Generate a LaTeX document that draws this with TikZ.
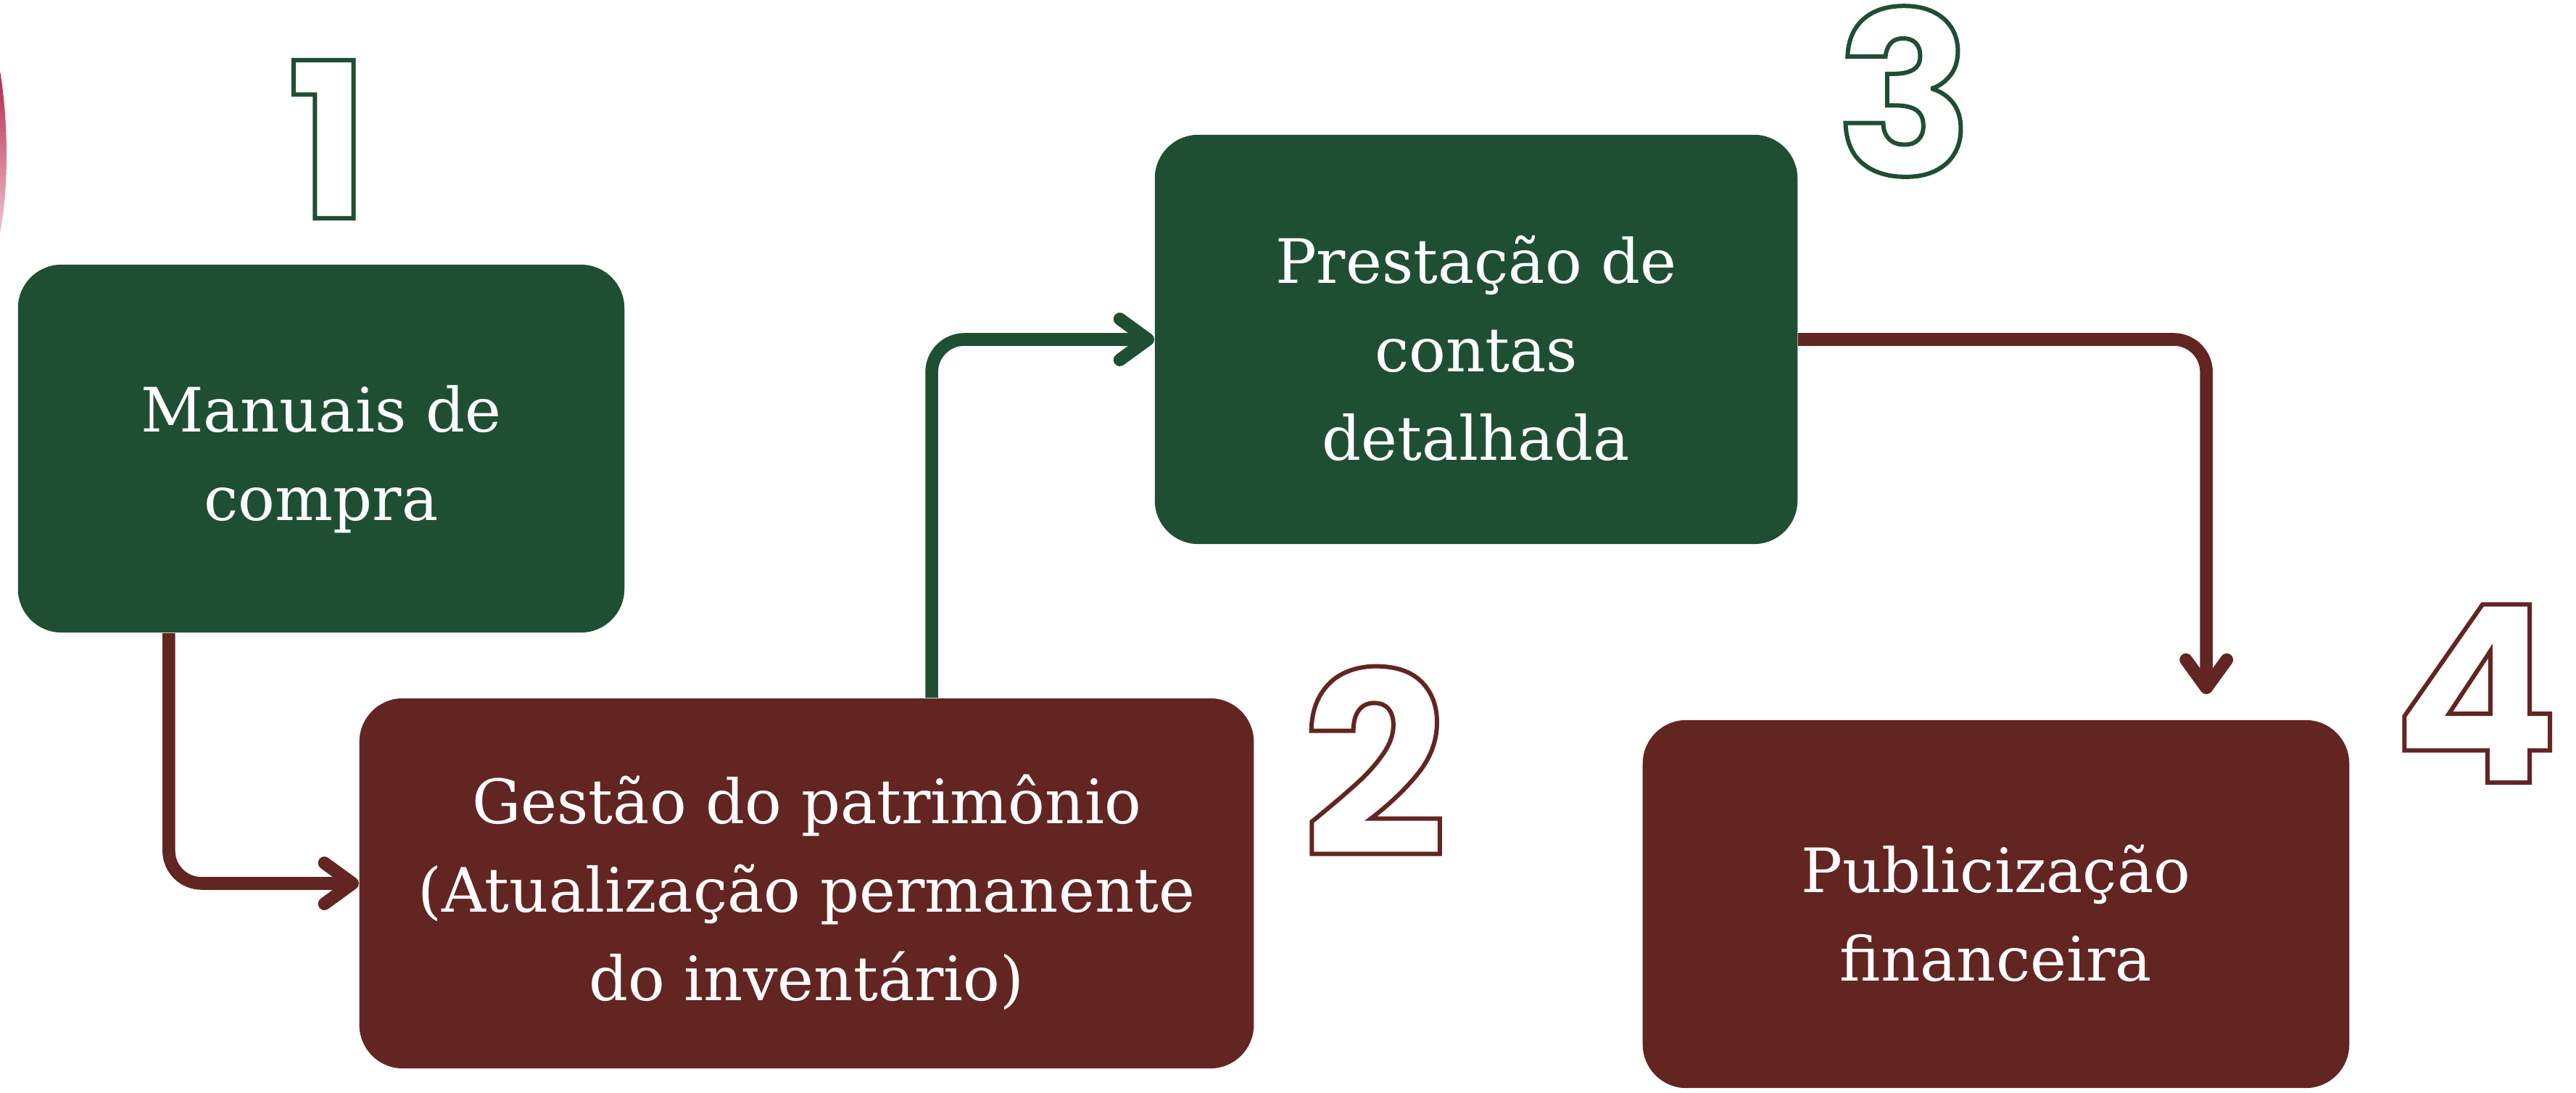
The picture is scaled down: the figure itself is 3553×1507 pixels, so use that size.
\documentclass[tikz,border=0pt]{standalone}
\usepackage{fontspec}
\setmainfont{DejaVu Serif}
\newfontfamily\numfont{Poppins}
\usetikzlibrary{arrows.meta,calc}
\definecolor{dgreen}{HTML}{1F4F33}
\definecolor{dbrown}{HTML}{632521}
\definecolor{crim}{HTML}{B8214A}
\newcommand\outl[1]{\special{pdf:literal direct 1 Tr 1.7 w}#1\special{pdf:literal direct 0 Tr}}
\tikzset{
  box/.style={rectangle, rounded corners=0.6cm, draw=none, inner sep=0pt},
  gbox/.style={box, fill=dgreen},
  bbox/.style={box, fill=dbrown},
  boxtext/.style={text=white, align=center, inner sep=0pt,
    font=\fontsize{24}{34.7}\selectfont},
  conn/.style={line width=5pt, rounded corners=0.45cm,
    -{Straight Barb[length=11pt, width=16pt, round]}},
  digit/.style={anchor=base, inner sep=0pt}
}
\begin{document}
\begin{tikzpicture}[x=0.01cm, y=-0.01cm]
\useasboundingbox (0,0) rectangle (3553,1507);
\fill[white] (0,0) rectangle (3553,1507);
% red arc on the left edge
\shade[top color=crim, bottom color=crim!25] (0,98) .. controls (12,170) and (12,260) .. (0,322) -- cycle;
% boxes
\node[gbox, minimum width=8.36cm, minimum height=5.07cm] (b1) at (443,618.5) {};
\node[bbox, minimum width=12.33cm, minimum height=5.10cm] (b2) at (1112.5,1218) {};
\node[gbox, minimum width=8.86cm, minimum height=5.64cm] (b3) at (2036,468) {};
\node[bbox, minimum width=9.74cm, minimum height=5.07cm] (b4) at (2753,1246.5) {};
% box texts
\node[boxtext] (t1) at ([yshift=-0.15cm]b1.center) {Manuais de\\compra};
\node[boxtext] (t2) at ([yshift=-0.12cm]b2.center) {Gestão do patrimônio\\(Atualização permanente\\do inventário)};
\node[boxtext] (t3) at ([yshift=-0.12cm]b3.center) {Prestação de\\contas\\detalhada};
\node[boxtext] (t4) at ([yshift=-0.13cm]b4.center) {Publicização\\financeira};
% connectors
\draw[conn, dbrown] ([xshift=-2.1cm]b1.south) |- (b2.west);
\draw[conn, dgreen] ([xshift=1.725cm]b2.north) |- (b3.west);
\draw[conn, dbrown] (b3.east) -| ([xshift=2.9cm, yshift=0.35cm]b4.north);
% numbers
\node[digit, dgreen, font=\numfont\bfseries\fontsize{85}{85}\selectfont] (n1) at (453,301) {\outl{1}};
\node[digit, dbrown, font=\numfont\bfseries\fontsize{100}{100}\selectfont] (n2) at (1896,1181) {\outl{2}};
\node[digit, dgreen, font=\numfont\bfseries\fontsize{89}{89}\selectfont] (n3) at (2627,242) {\outl{3}};
\node[digit, dbrown, font=\numfont\bfseries\fontsize{97}{97}\selectfont] (n4) at (3415,1079) {\outl{4}};
\end{tikzpicture}
\end{document}
